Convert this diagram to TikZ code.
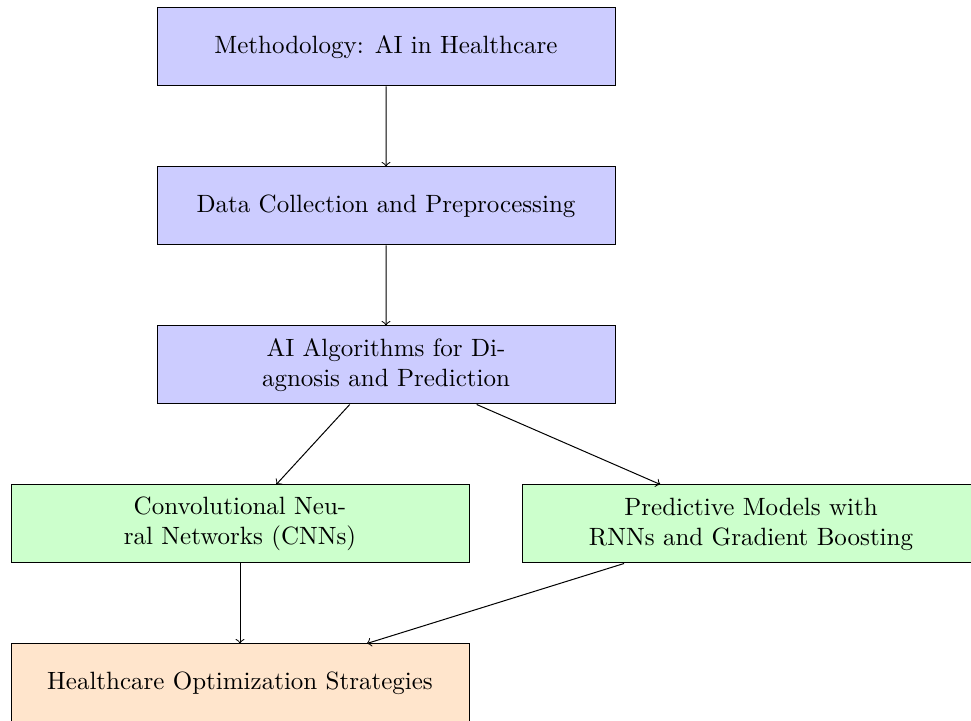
\documentclass[tikz,border=0pt]{standalone}
\usepackage{amsmath}
\usetikzlibrary{positioning,trees}

\tikzset{
  block/.style={draw, fill=blue!20, align=center, minimum width=183.2pt, minimum height=31.2pt},
  model/.style={draw, fill=green!20, align=center, minimum width=183.2pt, minimum height=31.2pt},
  outcome/.style={draw, fill=orange!20, align=center, minimum width=183.2pt, minimum height=31.2pt}
}

\begin{document}
\begin{tikzpicture}[level distance=63.6pt,
        edge from parent/.append style={->},
        level 3/.style={grow via three points={one child at (43.8pt,-63.6pt) and two children at (-58.4pt,-63.6pt) and (146pt,-63.6pt)}}]
    \clip (0,0) rectangle (388.4pt,-288.4pt);
          \node (method) [block] at (154.4pt,-18.8pt) {Methodology: AI in Healthcare}
          child {node (data) [block] {Data Collection and Preprocessing}
          child {node (algo) [block] {AI Algorithms for Di-\\agnosis and Prediction}
            child {node (cnn) [model] {Convolutional Neu-\\ral Networks (CNNs)}}
            child {node (pred) [model] {Predictive Models with\\RNNs and Gradient Boosting}}
          }};
          \node (optim) [outcome, below=32pt of cnn] {Healthcare Optimization Strategies};
          \draw[->] (cnn) -- (optim);
          \draw[->] (pred) -- (optim);
    \end{tikzpicture}
\end{document}
